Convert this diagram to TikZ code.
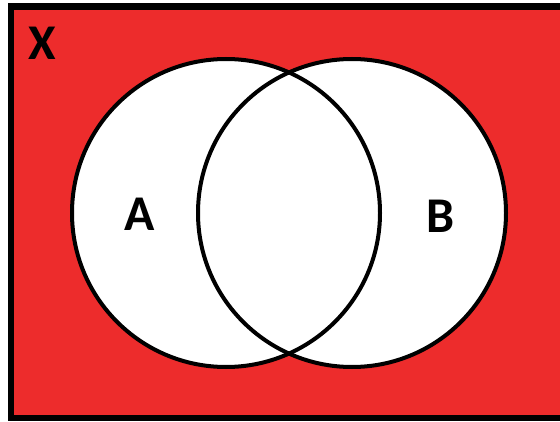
\documentclass[tikz,border=0pt]{standalone}
\usepackage{fontspec}
\setmainfont{Carlito}
\definecolor{vennred}{RGB}{237,44,44}
\begin{document}
\begin{tikzpicture}[x=1pt,y=1pt,
  setlabel/.style={inner sep=0pt,font=\fontsize{50}{50}\bfseries\selectfont}]
\useasboundingbox (0,0) rectangle (560,421);
\fill[white] (0,0) rectangle (560,421);
\begin{scope}
\clip (0,0) rectangle (560,421);
\draw[line width=6.5pt,fill=vennred] (11,3) rectangle (575,414.5);
\end{scope}
\fill[white] (226,208) circle (154);
\fill[white] (352,208) circle (154);
\draw[draw=black,line width=4pt] (226,208) circle (154);
\draw[draw=black,line width=4pt] (352,208) circle (154);
\node[setlabel] (x) at (42.5,378) {X};
\node[setlabel] (a) at (140,206.5) {A};
\node[setlabel] (b) at (441,205) {B};
\end{tikzpicture}
\end{document}
